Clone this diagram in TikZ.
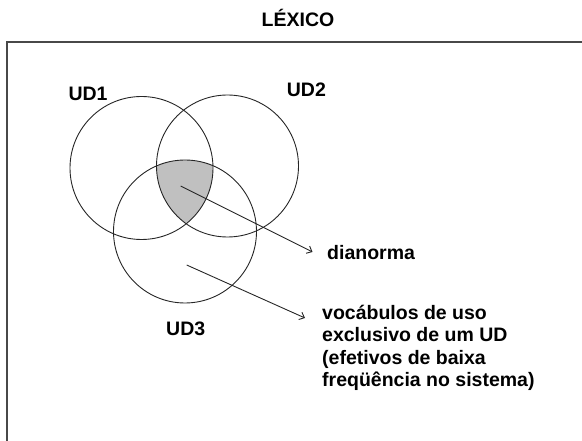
\documentclass[tikz,border=0pt]{standalone}
\usepackage{fontspec}
\setmainfont{Liberation Sans}
\usetikzlibrary{arrows.meta}
\definecolor{framegray}{HTML}{484848}
\definecolor{fillgray}{HTML}{C0C0C0}
\tikzset{
  lbl/.style={inner sep=0pt, font=\fontsize{19.5}{22.5}\selectfont\bfseries, text=black},
  setcircle/.style={draw=black!85, line width=0.9pt},
  pointer/.style={draw=black!85, line width=0.9pt, -{Straight Barb[length=4.5pt,width=8pt,line width=0.9pt]}},
  framepath/.style={draw=framegray, line width=2.5pt}
}
\begin{document}
\begin{tikzpicture}[x=1pt,y=-1pt]
\useasboundingbox (0,0) rectangle (582,441);
% frame (right and bottom edges lie outside the picture)
\draw[framepath] (7.2,445) -- (7.2,42) -- (590,42);
% title
\node[lbl, anchor=base] (lex) at (298,27) {LÉXICO};
% intersection of all three sets
\begin{scope}
  \clip (141.5,168) circle[radius=71.5];
  \clip (227.5,166) circle[radius=71];
  \fill[fillgray] (185,231.5) circle[radius=71.5];
\end{scope}
% circles
\node[setcircle, circle, minimum size=143pt, inner sep=0pt] (c1) at (141.5,168) {};
\node[setcircle, circle, minimum size=142pt, inner sep=0pt] (c2) at (227.5,166) {};
\node[setcircle, circle, minimum size=143pt, inner sep=0pt] (c3) at (185,231.5) {};
% labels
\node[lbl, anchor=base west] (ud1) at (68.3,101) {UD1};
\node[lbl, anchor=base west] (ud2) at (286.7,97) {UD2};
\node[lbl, anchor=base west] (ud3) at (166,335) {UD3};
\node[lbl, anchor=base west] (dia) at (327,260) {dianorma};
\node[lbl, anchor=north west, align=left] (voc) at (322,304.5) {vocábulos de uso\\exclusivo de um UD\\(efetivos de baixa\\freqüência no sistema)};
% pointers
\coordinate (p1s) at (180.7,186);
\coordinate (p1e) at (312.5,252);
\coordinate (p2s) at (186.7,265);
\coordinate (p2e) at (305,318);
\draw[pointer] (p1s) -- (p1e);
\draw[pointer] (p2s) -- (p2e);
\end{tikzpicture}
\end{document}
